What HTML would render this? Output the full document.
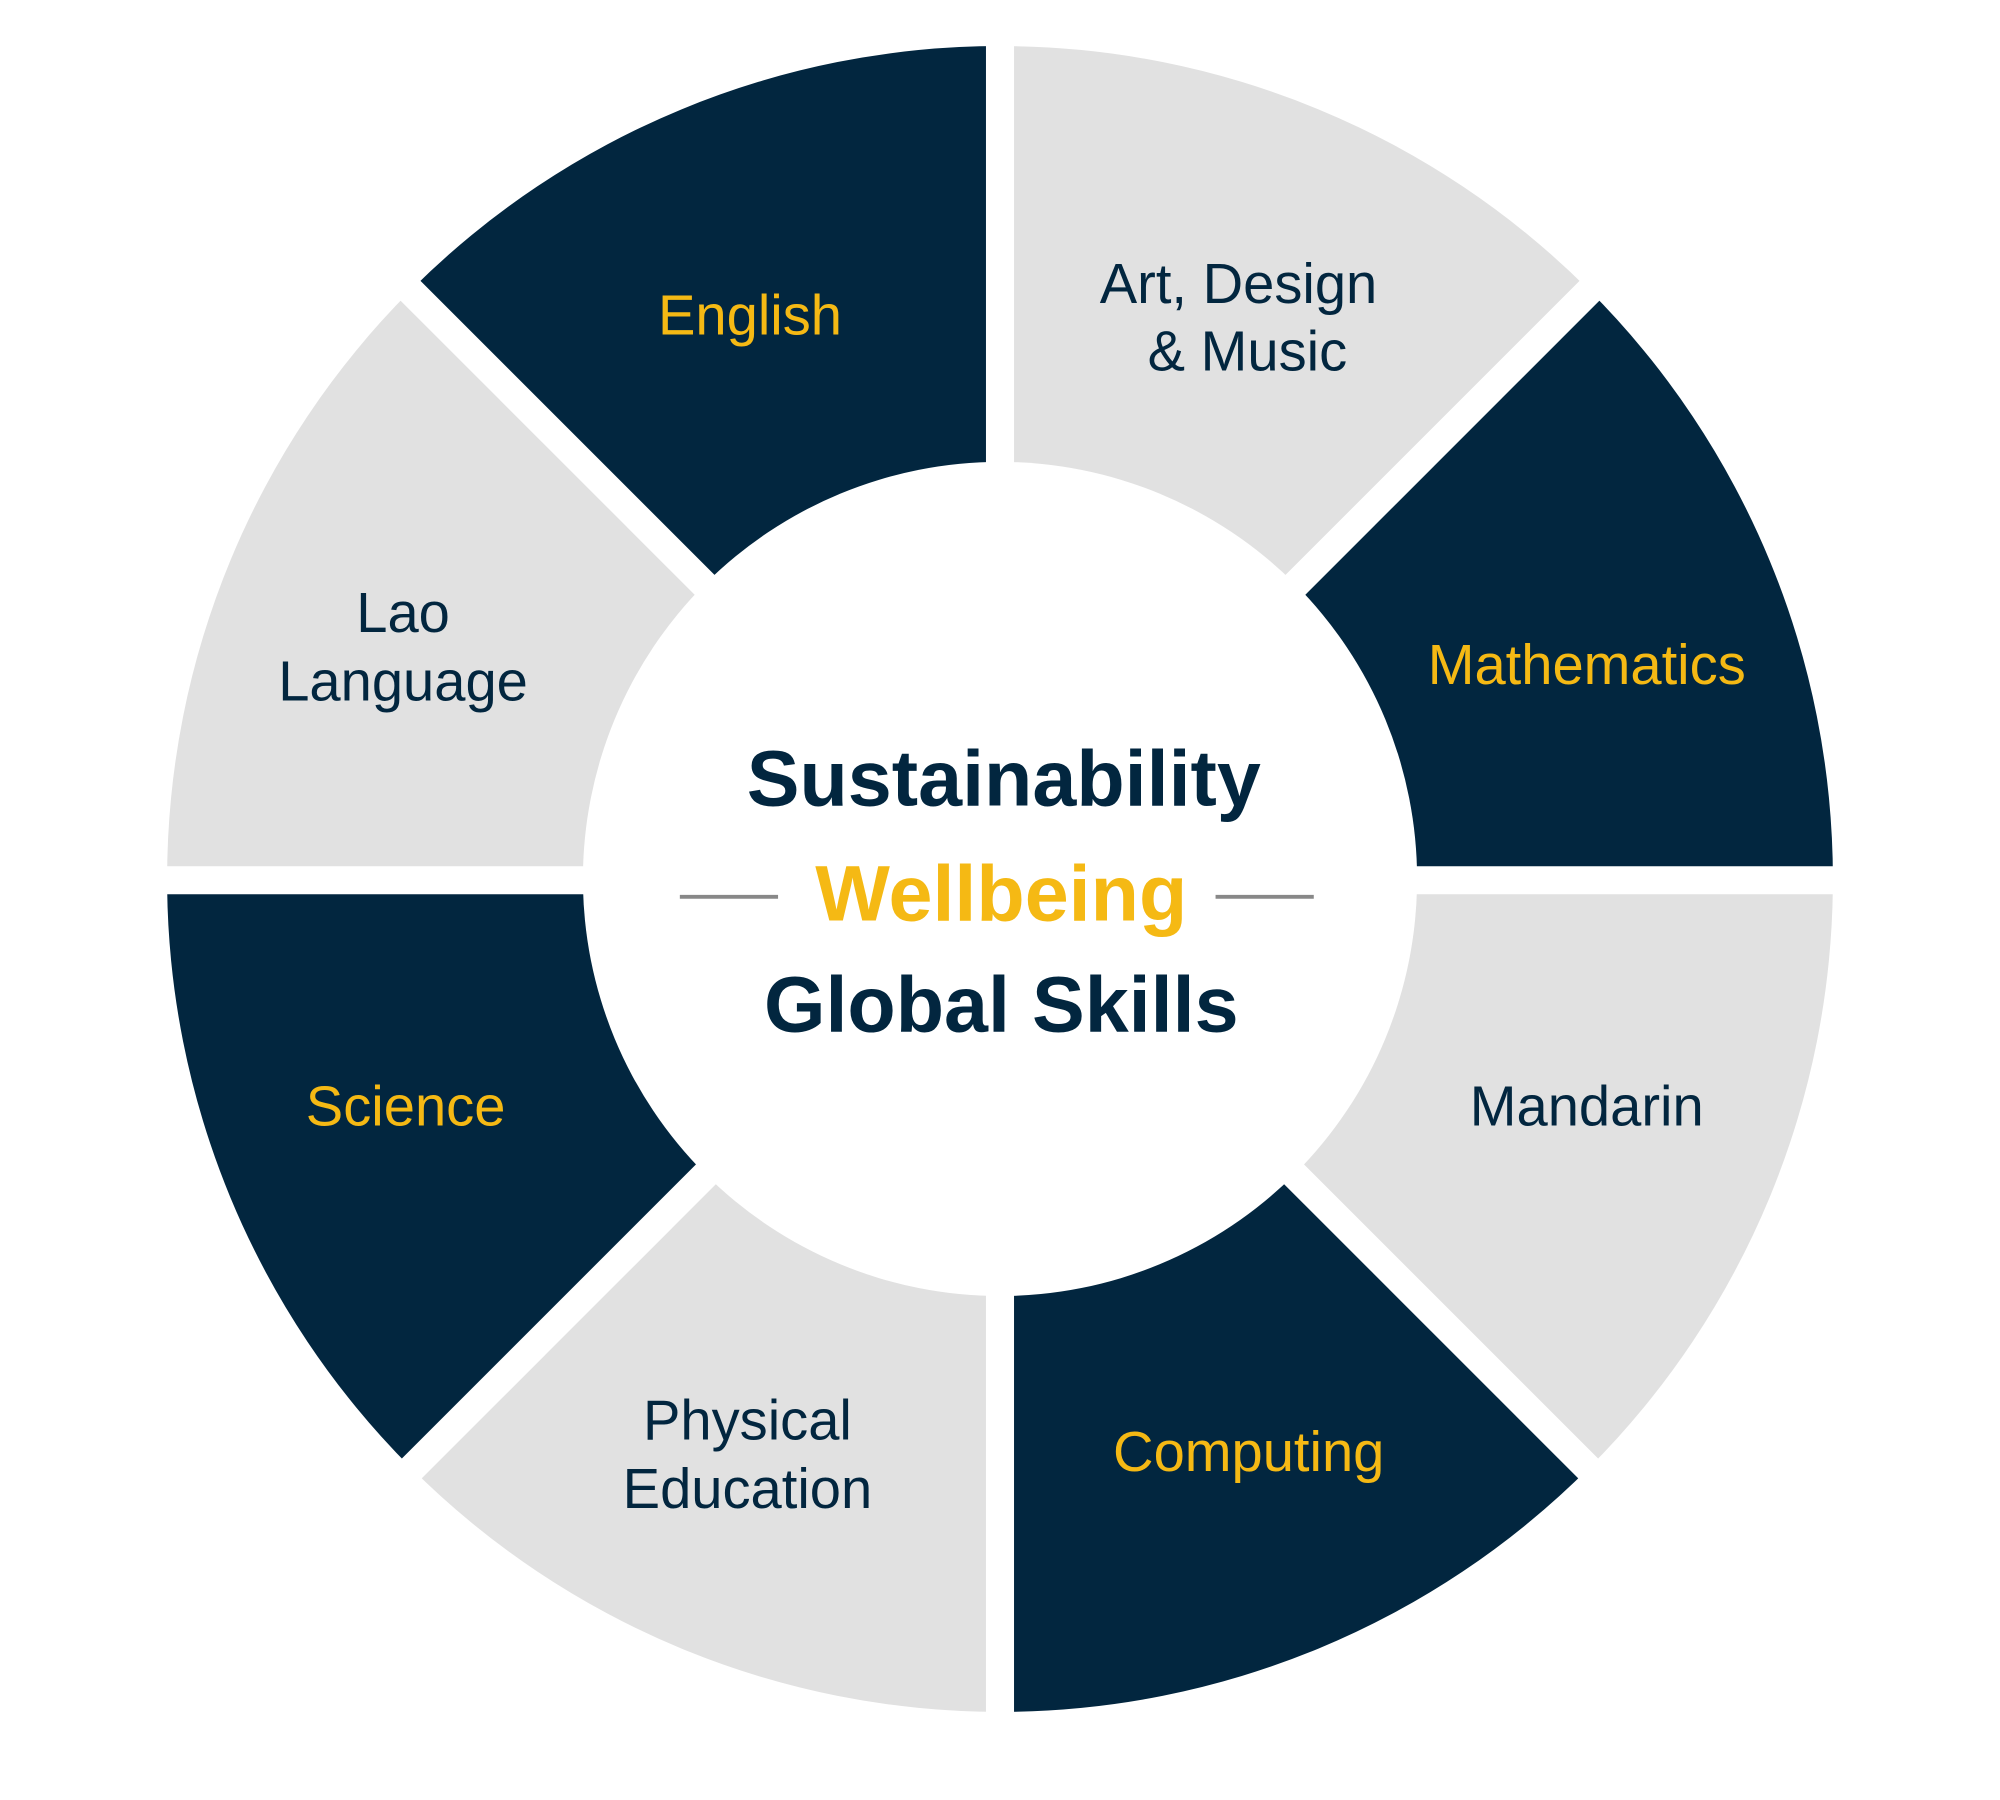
<!DOCTYPE html>
<html><head><meta charset="utf-8"><style>
html,body{margin:0;padding:0;background:#fff;width:2000px;height:1800px;overflow:hidden}
svg{display:block}
text{font-family:"Liberation Sans",sans-serif}
</style></head><body>
<svg id="s" width="2000" height="1800" viewBox="0 0 1568 1411" xmlns="http://www.w3.org/2000/svg">
<g id="segs"></g>
<g stroke="#fff" stroke-width="22">
<line x1="784" y1="0" x2="784" y2="1411"/>
<line x1="0" y1="690" x2="1568" y2="690"/>
<line x1="84" y1="-10" x2="1484" y2="1390"/>
<line x1="1484" y1="-10" x2="84" y2="1390"/>
</g>
<circle cx="784" cy="689" r="327" fill="#fff"/>
<g font-size="44" text-anchor="middle" dominant-baseline="central" font-weight="300">
<text x="588" y="247" fill="#f5b914">English</text>
<text x="971" y="222" fill="#02263f">Art, Design</text>
<text x="978" y="275" fill="#02263f">&amp; Music</text>
<text x="1244" y="521" fill="#f5b914">Mathematics</text>
<text x="1244" y="867" fill="#02263f">Mandarin</text>
<text x="979" y="1138" fill="#f5b914">Computing</text>
<text x="586" y="1113" fill="#02263f">Physical</text>
<text x="586" y="1167" fill="#02263f">Education</text>
<text x="318" y="867" fill="#f5b914">Science</text>
<text x="316" y="480" fill="#02263f">Lao</text>
<text x="316" y="534" fill="#02263f">Language</text>
</g>
<g font-size="62" font-weight="bold" text-anchor="middle" dominant-baseline="central">
<text x="787" y="610" fill="#02263f">Sustainability</text>
<text x="785" y="700" fill="#f5b914">Wellbeing</text>
<text x="785" y="787" fill="#02263f">Global Skills</text>
</g>
<g stroke="#888" stroke-width="3">
<line x1="533" y1="703" x2="610" y2="703"/>
<line x1="953" y1="703" x2="1030" y2="703"/>
</g>
</svg>
<script>
(function(){
var cx=784,cy=689,R=653,r=320,g=document.getElementById('segs');
var cols=['#e1e1e1','#02263f','#e1e1e1','#02263f','#e1e1e1','#02263f','#e1e1e1','#02263f'];
// start at top (-90deg in screen), clockwise
for(var i=0;i<8;i++){
 var a0=(-90+45*i)*Math.PI/180,a1=(-90+45*(i+1))*Math.PI/180;
 var p=function(rr,a){return (cx+rr*Math.cos(a)).toFixed(2)+' '+(cy+rr*Math.sin(a)).toFixed(2)};
 var d='M'+p(R,a0)+' A'+R+' '+R+' 0 0 1 '+p(R,a1)+' L'+p(r,a1)+' A'+r+' '+r+' 0 0 0 '+p(r,a0)+' Z';
 var el=document.createElementNS('http://www.w3.org/2000/svg','path');
 el.setAttribute('d',d);el.setAttribute('fill',cols[i]);g.appendChild(el);
}
})();
</script>
</body></html>
